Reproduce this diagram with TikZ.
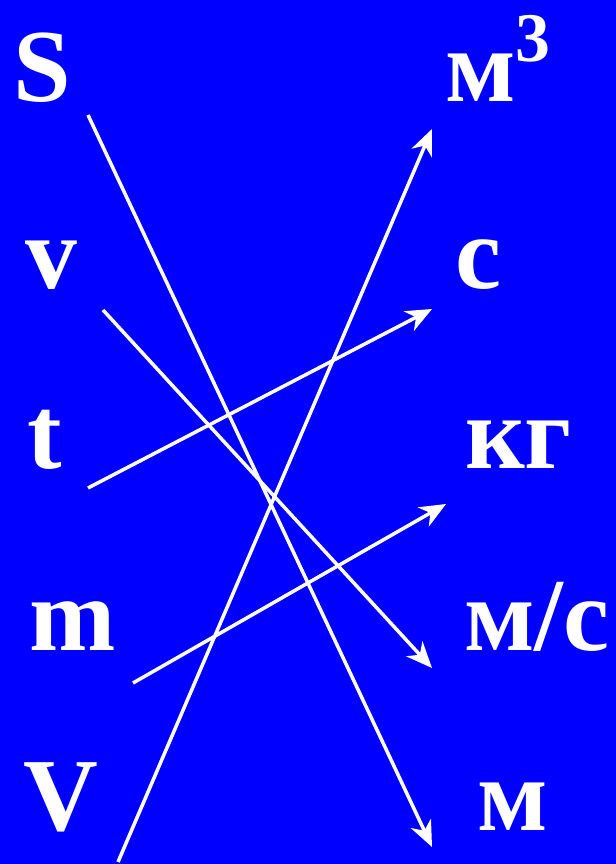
\documentclass[tikz,border=0pt]{standalone}
\usepackage{fontspec}
\setmainfont{Liberation Serif}
\definecolor{bgblue}{RGB}{0,0,255}
\usetikzlibrary{arrows.meta}
\tikzset{
  unit/.style={text=white,inner sep=0pt,anchor=base west,font=\fontsize{104}{116}\selectfont\bfseries},
  link/.style={-{Stealth[length=26bp,width=22bp,inset=8bp]},white,line width=3.5bp}
}
\begin{document}
\begin{tikzpicture}[x=1bp,y=-1bp]
  \useasboundingbox (0,0) rectangle (616,864);
  \fill[bgblue] (-6,-6) rectangle (622,870);
  % quantities
  \node[unit] (lS) at (13,101) {S};
  \node[unit] (lv) at (25,288) {v};
  \node[unit] (lt) at (27,468) {t};
  \node[unit] (lm) at (29,650) {m};
  \node[unit] (lV) at (23,830) {V};
  % units
  \node[unit] (rcub) at (445,101) {м\raisebox{40bp}{\fontsize{70}{78}\selectfont 3}};
  \node[unit] (rsec) at (455,288) {с};
  \node[unit] (rkg) at (465,468) {кг};
  \node[unit] (rms) at (464,650) {м/с};
  \node[unit] (rm) at (477,830) {м};
  % arrow ends
  \coordinate (aS) at (88,115);  \coordinate (bS) at (432,847);
  \coordinate (av) at (103,310); \coordinate (bv) at (432,668);
  \coordinate (at) at (88,488);  \coordinate (bt) at (432,309);
  \coordinate (am) at (133,683); \coordinate (bm) at (446,504);
  \coordinate (aV) at (118,862); \coordinate (bV) at (432,129);
  \draw[link] (aS) -- (bS);
  \draw[link] (av) -- (bv);
  \draw[link] (at) -- (bt);
  \draw[link] (am) -- (bm);
  \draw[link] (aV) -- (bV);
\end{tikzpicture}
\end{document}
